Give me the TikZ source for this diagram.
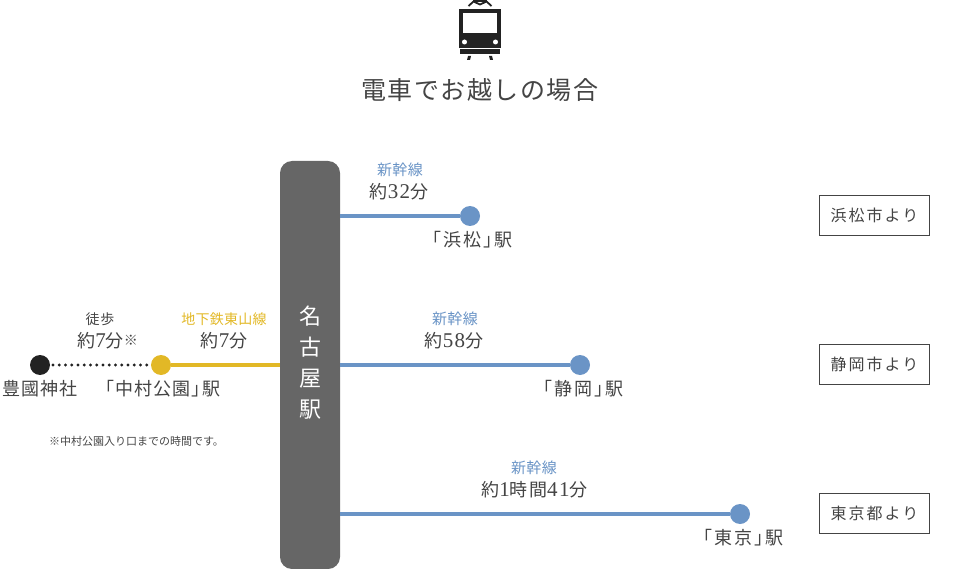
\documentclass[tikz,border=0pt]{standalone}
\usepackage{fontspec}
\setmainfont{Noto Sans CJK JP}
\newfontfamily\latn{Liberation Serif}[LetterSpace=7]
\newfontfamily\cjkY{Noto Sans CJK JP}[LetterSpace=2]
\newfontfamily\cjkA{Noto Sans CJK JP}[LetterSpace=6]
\newfontfamily\cjkW{Noto Sans CJK JP}[LetterSpace=11]
\newfontfamily\cjkB{Noto Sans CJK JP}[LetterSpace=6]
\newfontfamily\cjkC{Noto Sans CJK JP}[LetterSpace=13]
\definecolor{linkblue}{HTML}{6A94C6}
\definecolor{subway}{HTML}{E2B826}
\definecolor{hubgray}{HTML}{666666}
\definecolor{ink}{HTML}{444444}
\definecolor{iconk}{HTML}{222222}
\tikzset{
 x=1pt,y=-1pt,
 txt/.style={inner sep=0pt,outer sep=0pt,text=ink,anchor=center},
 mainlbl/.style={txt,font=\cjkA\fontsize{18}{22}\selectfont},
 widelbl/.style={txt,font=\cjkW\fontsize{18}{22}\selectfont},
 linelbl/.style={txt,font=\cjkY\fontsize{14}{18}\selectfont},
 bluelbl/.style={txt,text=linkblue,font=\cjkY\fontsize{15}{18}\selectfont},
 yellowlbl/.style={linelbl,text=subway},
 sidebox/.style={txt,draw=ink,line width=1pt,minimum width=110pt,minimum height=40pt,font=\cjkC\fontsize{16}{18}\selectfont},
 stopdot/.style={circle,inner sep=0pt,outer sep=0pt,minimum size=20pt},
 route/.style={line width=4pt},
}
\newcommand{\dg}[1]{{\latn\fontsize{21}{22}\selectfont #1}}
\newcommand{\brk}{\kern-7pt\relax}
\begin{document}
\begin{tikzpicture}
\useasboundingbox (0,0) rectangle (960,569);
% train icon
\draw[iconk,line width=1.8pt,line join=round] (468.5,6) -- (473.5,1.5) -- (480,4.5) -- (486.5,1.5) -- (491.5,6);
\draw[iconk,line width=2pt] (473,1) -- (487,1);
\fill[iconk] (459,9) rectangle (501,48);
\fill[white] (463,13) rectangle (497,33);
\fill[white] (464.5,42) circle (2.5);
\fill[white] (495.5,42) circle (2.5);
\fill[iconk] (460,49) rectangle (500,54);
\fill[iconk] (468,56) -- (471,56) -- (470,60) -- (467,60) -- cycle;
\fill[iconk] (489,56) -- (492,56) -- (493,60) -- (490,60) -- cycle;
\node[txt,font=\cjkB\fontsize{25}{28}\selectfont] (title) at (479.5,90) {電車でお越しの場合};
% hub
\node[fill=hubgray,rounded corners=12pt,minimum width=60pt,minimum height=408pt,inner sep=0pt,outer sep=0pt,anchor=center] (hub) at (310,365) {};
\node[txt,text=white,font=\fontsize{22}{31}\selectfont,align=center] (hubtext) at (310,362.5) {名\\古\\屋\\駅};
% stops
\node[stopdot,fill=iconk] (shrine) at (40,365) {};
\node[stopdot,fill=subway] (nakamura) at (161,365) {};
\node[stopdot,fill=linkblue] (hamamatsu) at (470,216) {};
\node[stopdot,fill=linkblue] (shizuoka) at (580,365) {};
\node[stopdot,fill=linkblue] (tokyo) at (740,514) {};
% connectors
\draw[route,linkblue] (hamamatsu) -- (hamamatsu -| hub.east);
\draw[route,linkblue] (shizuoka) -- (shizuoka -| hub.east);
\draw[route,linkblue] (tokyo) -- (tokyo -| hub.east);
\draw[route,subway] (nakamura) -- (nakamura -| hub.west);
\draw[iconk,line width=3.4pt,line cap=round,dash pattern=on 0pt off 6.25pt,shorten <=3pt,shorten >=2pt] (shrine) -- (nakamura);
% labels: hamamatsu
\node[bluelbl] (l1a) at (400,170) {新幹線};
\node[mainlbl] (l1b) at (399,192) {約\dg{32}分};
\node[widelbl] (l1c) at (468,240) {「浜松」\brk 駅};
% shizuoka
\node[bluelbl] (l2a) at (455,319) {新幹線};
\node[mainlbl] (l2b) at (454,341) {約\dg{58}分};
\node[widelbl] (l2c) at (579,389) {「静岡」\brk 駅};
% tokyo
\node[bluelbl] (l3a) at (534,468) {新幹線};
\node[mainlbl] (l3b) at (534.5,490) {約\dg{1}時間\dg{41}分};
\node[widelbl] (l3c) at (739,538) {「東京」\brk 駅};
% west side
\node[linelbl,font=\cjkA\fontsize{14}{18}\selectfont] (w1) at (100,319) {徒歩};
\node[mainlbl] (w2) at (107.5,341) {約\dg{7}分{\fontsize{14}{14}\selectfont\raisebox{2pt}{※}}};
\node[yellowlbl] (y1) at (224,319) {地下鉄東山線};
\node[mainlbl] (y2) at (224,341) {約\dg{7}分};
\node[mainlbl] (shrinelbl) at (40,389) {豊國神社};
\node[mainlbl] (nakalbl) at (158.5,389) {「中村公園」\brk 駅};
\node[txt,font=\fontsize{11}{14}\selectfont] (note) at (136.5,441) {※中村公園入り口までの時間です。};
% side boxes
\node[sidebox] (b1) at (874.5,215.5) {浜松市より};
\node[sidebox] (b2) at (874.5,364.5) {静岡市より};
\node[sidebox] (b3) at (874.5,513.5) {東京都より};
\end{tikzpicture}
\end{document}
